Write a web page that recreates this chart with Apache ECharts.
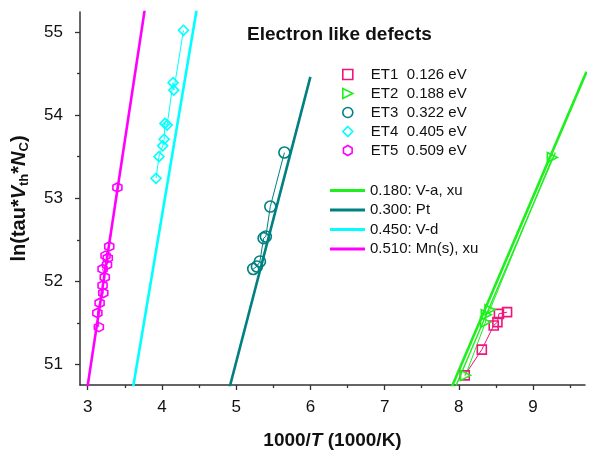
<!DOCTYPE html>
<html>
<head>
<meta charset="utf-8">
<script src="https://cdn.jsdelivr.net/npm/echarts@6/dist/echarts.min.js"></script>
<style>
  html, body { margin: 0; padding: 0; background: #fff; }
  #chart { width: 597px; height: 461px; }
</style>
</head>
<body>
<div id="chart"></div>
<script>
// measured points: [1000/T, ln(tau*Vth*Nc)]
var et1 = [[8.08,50.87],[8.31,51.18],[8.47,51.47],[8.52,51.51],[8.54,51.61],[8.65,51.63]];
var et2 = [[8.09,50.87],[8.36,51.51],[8.37,51.60],[8.42,51.66],[9.26,53.49]];
var et3 = [[5.23,52.15],[5.28,52.18],[5.32,52.24],[5.37,52.52],[5.40,52.54],[5.46,52.90],[5.65,53.55]];
var et4 = [[3.92,53.24],[3.96,53.50],[4.01,53.63],[4.03,53.71],[4.04,53.90],[4.07,53.88],[4.15,54.39],[4.16,54.30],[4.29,55.02]];
var et5 = [[3.15,51.45],[3.13,51.62],[3.16,51.74],[3.21,51.86],[3.20,51.95],[3.23,52.05],[3.20,52.15],[3.26,52.20],[3.27,52.28],[3.24,52.31],[3.29,52.42],[3.40,53.13]];

// reference levels (straight lines, end points)
var refVa = [[7.90,50.72],[9.72,54.52]];
var refVaFit = [[7.95,50.72],[9.30,53.55]];
var refPt = [[4.91,50.72],[6.00,54.46]];
var refVd = [[3.61,50.72],[4.47,55.28]];
var refMn = [[2.995,50.72],[3.77,55.28]];

var etNames = ['ET1  0.126 eV','ET2  0.188 eV','ET3  0.322 eV','ET4  0.405 eV','ET5  0.509 eV'];
var refNames = ['0.180: V-a, xu','0.300: Pt','0.450: V-d','0.510: Mn(s), xu'];

var xTicks = [3,4,5,6,7,8,9];
var xMinor = [3.5,4.5,5.5,6.5,7.5,8.5,9.5];
var yTicks = [51,52,53,54,55];
var yMinor = [51.5,52.5,53.5,54.5];

var cPink = '#F0147C', cGreen = '#1EF01E', cTeal = '#008080', cCyan = '#00FFFF', cMag = '#FF00FF';
var hexPath = 'path://M5,0 L9.33,2.5 L9.33,7.5 L5,10 L0.67,7.5 L0.67,2.5 Z';
var triPath = 'path://M0,0 L10,5 L0,10 Z';
var etSymbols = ['rect', triPath, 'circle', 'diamond', hexPath];
var etColors = [cPink, cGreen, cTeal, cCyan, cMag];
var etSizes = [9, 10, 11, 10, 9];
var etData = [et1, et2, et3, et4, et5];
var refColors = [cGreen, cTeal, cCyan, cMag];

var font = 'Liberation Sans, Arial, sans-serif';

function refSeries(name, data, color, width){
  return { name: name, type: 'line', data: data, symbol: 'none', clip: true,
    lineStyle: { color: color, width: width }, itemStyle: { color: color }, z: 2 };
}

var series = [
  refSeries(refNames[0], refVa, cGreen, 2.6),
  refSeries('ET2 fit', refVaFit, cGreen, 1.4),
  refSeries(refNames[1], refPt, cTeal, 2.6),
  refSeries(refNames[2], refVd, cCyan, 2.6),
  refSeries(refNames[3], refMn, cMag, 2.6)
];
etData.forEach(function(d, i){
  series.push({
    name: etNames[i], type: 'line', data: d, clip: true,
    symbol: etSymbols[i], symbolSize: etSizes[i], showAllSymbol: true,
    lineStyle: { color: etColors[i], width: 1 },
    itemStyle: { color: 'rgba(0,0,0,0)', borderColor: etColors[i], borderWidth: 1.6 },
    z: 3
  });
});

var tickStyle = { color: '#333', width: 1.3 };

var chart = echarts.init(document.getElementById('chart'));
chart.setOption({
  animation: false,
  backgroundColor: '#fff',
  title: {
    text: 'Electron like defects', left: 242, top: 20,
    textStyle: { fontFamily: font, fontSize: 19, fontWeight: 'bold', color: '#111' }
  },
  grid: { left: 80, right: 12, top: 12, bottom: 76 },
  legend: [{
    left: 342, top: 67, padding: 0, orient: 'vertical', itemWidth: 10, itemHeight: 10, itemGap: 4,
    data: etNames.map(function(n, i){
      return { name: n, icon: etSymbols[i],
        itemStyle: { color: 'rgba(0,0,0,0)', borderColor: etColors[i], borderWidth: 1.6 } };
    }),
    textStyle: { fontFamily: font, fontSize: 15, color: '#111', lineHeight: 15, padding: [0,0,0,13] }
  }, {
    left: 330, top: 183, padding: 0, orient: 'vertical', itemWidth: 35, itemHeight: 3, itemGap: 4.5,
    data: refNames.map(function(n, i){
      return { name: n, icon: 'rect', itemStyle: { color: refColors[i], borderWidth: 0 } };
    }),
    textStyle: { fontFamily: font, fontSize: 15, color: '#111', lineHeight: 15 }
  }],
  xAxis: [{
    type: 'value', min: 2.896, max: 9.70,
    name: '{b|1000/}{i|T}{b| (1000/K)}', nameLocation: 'middle', nameGap: 46,
    nameTextStyle: { rich: {
      b: { fontFamily: font, fontSize: 19, fontWeight: 'bold', color: '#111' },
      i: { fontFamily: font, fontSize: 19, fontWeight: 'bold', fontStyle: 'italic', color: '#111' }
    } },
    axisLine: { show: true, lineStyle: { color: '#333', width: 1.5 } },
    axisTick: { show: true, customValues: xTicks, length: 5, lineStyle: tickStyle },
    axisLabel: { customValues: xTicks, margin: 14, fontFamily: font, fontSize: 17, color: '#111' },
    splitLine: { show: false }
  }, {
    type: 'value', min: 2.896, max: 9.70, position: 'bottom',
    axisLine: { show: false }, axisLabel: { show: false }, splitLine: { show: false },
    axisTick: { show: true, customValues: xMinor, length: 3, lineStyle: tickStyle }
  }],
  yAxis: [{
    type: 'value', min: 50.754, max: 55.24,
    name: '{b|ln(tau*}{i|V}{s|th}{b|*}{i|N}{s|C}{b|)}', nameLocation: 'middle', nameGap: 49, nameRotate: 90,
    nameTextStyle: { rich: {
      b: { fontFamily: font, fontSize: 20, fontWeight: 'bold', color: '#111', lineHeight: 24 },
      i: { fontFamily: font, fontSize: 20, fontWeight: 'bold', fontStyle: 'italic', color: '#111', lineHeight: 24 },
      s: { fontFamily: font, fontSize: 13, fontWeight: 'bold', color: '#111', lineHeight: 24, verticalAlign: 'bottom' }
    } },
    axisLine: { show: true, lineStyle: { color: '#333', width: 1.5 } },
    axisTick: { show: true, customValues: yTicks, length: 5, lineStyle: tickStyle },
    axisLabel: { customValues: yTicks, margin: 17, fontFamily: font, fontSize: 17, color: '#111' },
    splitLine: { show: false }
  }, {
    type: 'value', min: 50.754, max: 55.24, position: 'left',
    axisLine: { show: false }, axisLabel: { show: false }, splitLine: { show: false },
    axisTick: { show: true, customValues: yMinor, length: 3, lineStyle: tickStyle }
  }],
  series: series
});
</script>
</body>
</html>
